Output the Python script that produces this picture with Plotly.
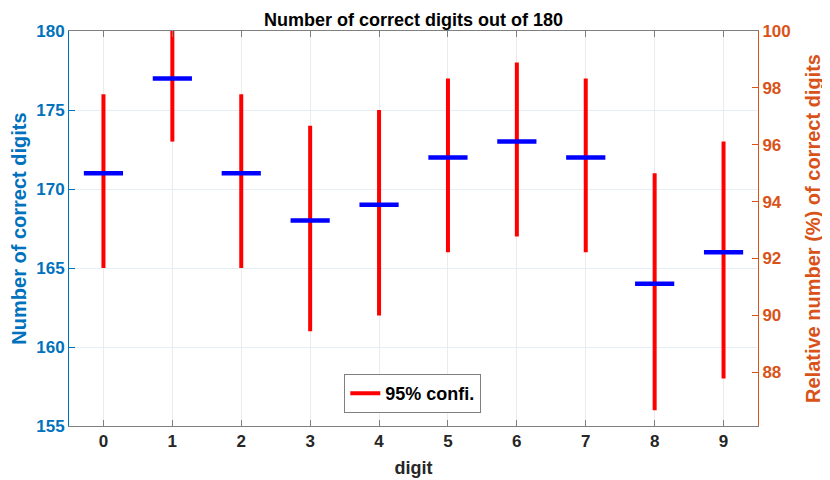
import plotly.graph_objects as go

digits = [0, 1, 2, 3, 4, 5, 6, 7, 8, 9]
correct = [171, 177, 171, 168, 169, 172, 173, 172, 164, 166]
ci_low = [165, 173, 165, 161, 162, 166, 167, 166, 156, 158]
ci_high = [176, 181, 176, 174, 175, 177, 178, 177, 171, 173]
total = 180
left_ticks = [155, 160, 165, 170, 175, 180]
right_ticks = [88, 90, 92, 94, 96, 98, 100]

BLUE = "#0072BD"
ORANGE = "#D95319"
FONT = "Liberation Sans, Arial, Helvetica, sans-serif"

# page body has an 8px margin, so the figure is shrunk by 8px and margins shifted
W, H = 822, 472

xs, ys = [], []
for d, lo, hi in zip(digits, ci_low, ci_high):
    xs += [d, d, None]
    ys += [lo, hi, None]

fig = go.Figure()
fig.add_trace(go.Scatter(x=xs, y=ys, mode="lines", line=dict(color="#FF0000", width=4),
                         name="<b>95% confi.</b>", hoverinfo="skip"))
fig.add_trace(go.Scatter(x=digits, y=correct, mode="markers",
                         marker=dict(symbol="line-ew", size=28, line=dict(color="#0000FF", width=4.5)),
                         showlegend=False))
fig.add_trace(go.Scatter(x=digits, y=[c / total * 100 for c in correct], yaxis="y2",
                         mode="markers", marker=dict(opacity=0), showlegend=False, hoverinfo="skip"))

fig.update_layout(
    width=W, height=H,
    margin=dict(l=61, r=72, t=23, b=54, pad=0),
    paper_bgcolor="white", plot_bgcolor="white",
    font=dict(family=FONT, size=17, color="#262626"),
    title=dict(text="<b>Number of correct digits out of 180</b>", x=0.5, xanchor="center",
               xref="paper", y=1 - 12 / H, yanchor="middle", font=dict(size=18, color="black")),
    xaxis=dict(range=[-0.5, 9.5], tickmode="array", tickvals=digits,
               ticktext=[f"<b>{d}</b>" for d in digits], automargin=False,
               title=dict(text="<b>digit</b>", font=dict(size=18, color="#262626"), standoff=10),
               showgrid=True, gridcolor="#EBEBEB", gridwidth=1, zeroline=False,
               showline=True, linecolor="#7F7F7F", linewidth=1, mirror="ticks",
               ticks="inside", ticklen=6, tickcolor="#7F7F7F",
               tickfont=dict(size=17, color="#262626")),
    yaxis=dict(range=[155, 180], tickmode="array", tickvals=left_ticks,
               ticktext=[f"<b>{v}</b>" for v in left_ticks], automargin=False,
               title=dict(text="<b>Number of correct digits</b>", font=dict(size=20, color=BLUE), standoff=4),
               showgrid=True, gridcolor="#E6EEF5", zeroline=False,
               showline=True, linecolor=BLUE, linewidth=1,
               ticks="inside", ticklen=6, tickcolor=BLUE,
               tickfont=dict(size=17, color=BLUE)),
    yaxis2=dict(range=[155 / total * 100, 100], overlaying="y", side="right",
                tickmode="array", tickvals=right_ticks, automargin=False,
                ticktext=[f"<b>{v}</b>" for v in right_ticks],
                title=dict(text="<b>Relative number (%) of correct digits</b>",
                           font=dict(size=20, color=ORANGE), standoff=16),
                showgrid=False, zeroline=False,
                showline=True, linecolor=ORANGE, linewidth=1,
                ticks="inside", ticklen=6, tickcolor=ORANGE,
                tickfont=dict(size=17, color=ORANGE)),
    legend=dict(x=0.499, y=0.033, xanchor="center", yanchor="bottom",
                bgcolor="white", bordercolor="#7F7F7F", borderwidth=1,
                font=dict(size=18, color="black"), itemwidth=30),
    showlegend=True,
)

fig.write_html("out.html")
